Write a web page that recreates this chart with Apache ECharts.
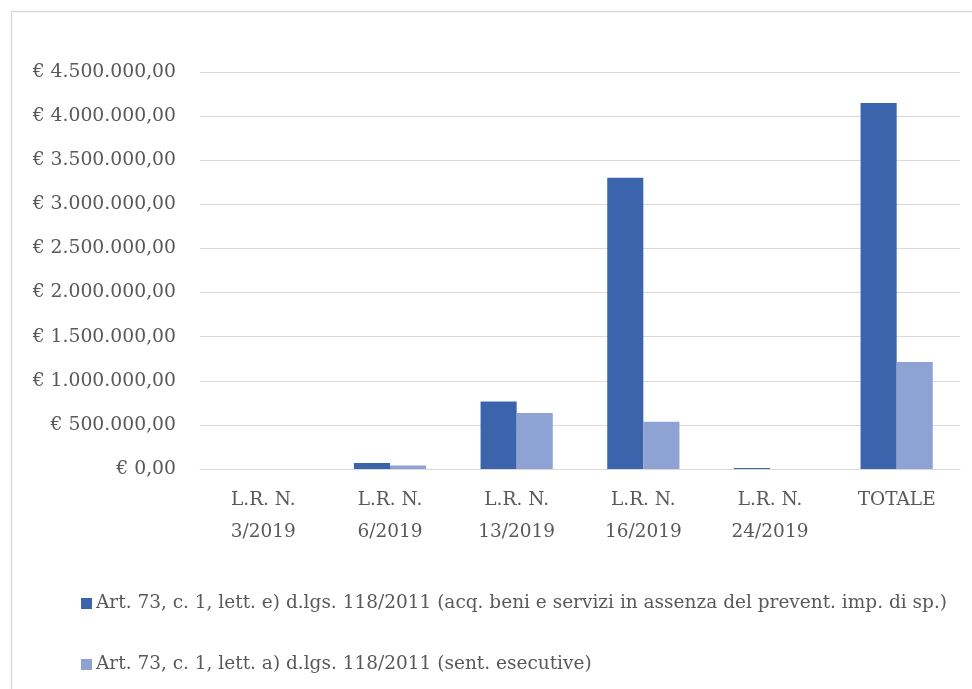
<!DOCTYPE html>
<html>
<head>
<meta charset="utf-8">
<script src="https://cdn.jsdelivr.net/npm/echarts@6/dist/echarts.min.js"></script>
<style>
html,body{margin:0;padding:0;background:#fff;}
#c{width:972px;height:689px;}
</style>
</head>
<body>
<div id="c"></div>
<script>
var categories = ['L.R. N.\n3/2019', 'L.R. N.\n6/2019', 'L.R. N.\n13/2019', 'L.R. N.\n16/2019', 'L.R. N.\n24/2019', 'TOTALE'];
var seriesNames = [
  'Art. 73, c. 1, lett. e) d.lgs. 118/2011 (acq. beni e servizi in assenza del prevent. imp. di sp.)',
  'Art. 73, c. 1, lett. a) d.lgs. 118/2011 (sent. esecutive)'
];
var valuesE = [0, 68000, 765000, 3300000, 12000, 4150000];
var valuesA = [0, 40000, 635000, 535000, 0, 1212000];
var yMin = 0, yMax = 4500000, yInterval = 500000;

function fmtEuro(v) {
  var s = Math.round(v).toString();
  var out = '';
  for (var i = 0; i < s.length; i++) {
    if (i > 0 && (s.length - i) % 3 === 0) out += '.';
    out += s[i];
  }
  return '€ ' + out + ',00';
}

var FONT = '"DejaVu Serif", serif';
var chart = echarts.init(document.getElementById('c'));
chart.setOption({
  animation: false,
  backgroundColor: '#ffffff',
  textStyle: { fontFamily: FONT },
  graphic: [{
    type: 'rect', left: 9, top: 9,
    shape: { width: 1000, height: 1000 },
    style: { fill: 'none', stroke: '#d9d9d9', lineWidth: 1.5 },
    silent: true
  }],
  grid: { left: 200, right: 12, top: 72, bottom: 220, containLabel: false },
  legend: {
    orient: 'vertical', left: 76, top: 589,
    itemWidth: 11, itemHeight: 11, itemGap: 42,
    icon: 'rect',
    textStyle: { fontFamily: FONT, fontSize: 18.5, color: '#595959', padding: [0, 0, 0, -1] },
    data: seriesNames
  },
  xAxis: {
    type: 'category', data: categories,
    axisLine: { show: true, lineStyle: { color: '#d9d9d9', width: 1 } },
    axisTick: { show: false },
    axisLabel: { fontFamily: FONT, fontSize: 18.5, color: '#595959', lineHeight: 32, margin: 15, interval: 0 }
  },
  yAxis: {
    type: 'value', min: yMin, max: yMax, interval: yInterval,
    axisLine: { show: false }, axisTick: { show: false },
    splitLine: { lineStyle: { color: '#d9d9d9', width: 1 } },
    axisLabel: { fontFamily: FONT, fontSize: 18.8, color: '#595959', margin: 24, formatter: fmtEuro }
  },
  series: [
    { name: seriesNames[0], type: 'bar', data: valuesE, barGap: '0%', barCategoryGap: '43%', itemStyle: { color: '#3b64ad' } },
    { name: seriesNames[1], type: 'bar', data: valuesA, barGap: '0%', barCategoryGap: '43%', itemStyle: { color: '#8fa2d4' } }
  ]
});
</script>
</body>
</html>
